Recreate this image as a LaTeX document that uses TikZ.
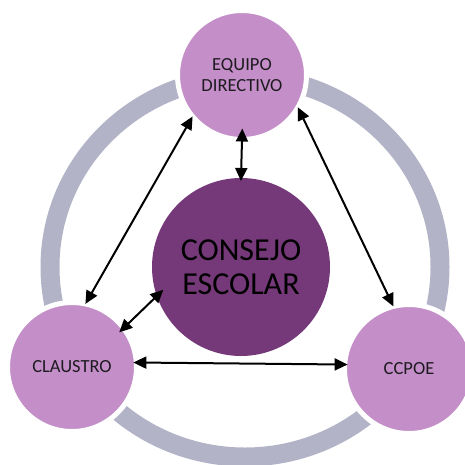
\documentclass[tikz,border=0pt]{standalone}
\usepackage{fontspec}
\setmainfont{Carlito}
\usetikzlibrary{arrows.meta}
\definecolor{ringgray}{HTML}{B3B3C7}
\definecolor{lightpurple}{HTML}{C48FC8}
\definecolor{darkpurple}{HTML}{75397A}
\definecolor{txt}{HTML}{1E1A20}
\tikzset{
  smallcircle/.style={circle, fill=lightpurple, draw=white, line width=5pt,
    minimum size=129pt, inner sep=0pt, outer sep=0pt, text=txt,
    font=\fontsize{18.5}{20.5}\selectfont, align=center},
  bigcircle/.style={circle, fill=darkpurple, draw=none,
    minimum size=178pt, inner sep=0pt, outer sep=0pt, text=black,
    font=\fontsize{32}{34}\selectfont, align=center},
  link/.style={line width=2pt, black, {Triangle[length=13pt,width=12pt]}-{Triangle[length=13pt,width=12pt]}}
}
\begin{document}
\begin{tikzpicture}[x=1pt,y=-1pt]
\useasboundingbox (0,0) rectangle (465,464);
\draw[ringgray, line width=19pt] (245,267) ellipse [x radius=195, y radius=190];
\node[bigcircle] (center) at (241,267) {CONSEJO\\ESCOLAR};
\node[smallcircle] (top) at (242,75) {EQUIPO\\DIRECTIVO};
\node[smallcircle] (left) at (72,367) {CLAUSTRO};
\node[smallcircle] (right) at (409,369) {CCPOE};
\draw[link, shorten <=-11pt, shorten >=-3pt] (top.-90) -- (center.90);
\draw[link] (top.220) -- (left.78);
\draw[link] (top.330) -- (right.104);
\draw[link, shorten <=-6pt, shorten >=-9pt] (left.37) -- (center.199);
\draw[link, shorten <=-3pt, shorten >=-3pt] (left.4) -- (right.176);
\end{tikzpicture}
\end{document}
